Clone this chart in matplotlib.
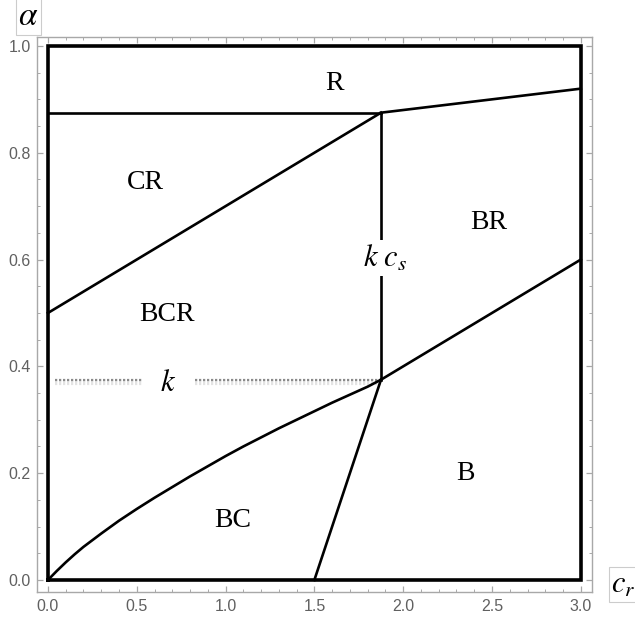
import numpy as np
import matplotlib
matplotlib.use("Agg")
import matplotlib.pyplot as plt
from matplotlib.ticker import MultipleLocator
import matplotlib.patheffects as pe

plt.rcParams['mathtext.fontset'] = 'stix'

# region boundaries (c_r, alpha)
k = 0.375
c_s = 1.875
top_line_c = [c_s, 3.0]
top_line_a = [0.875, 0.92]
upper_diag_c = [0.0, c_s]
upper_diag_a = [0.5, 0.875]
lower_diag_c = [c_s, 3.0]
lower_diag_a = [k, 0.6]
steep_c = [1.5, c_s]
steep_a = [0.0, k]
curve_c = [0.0, 0.05, 0.1, 0.15, 0.2, 0.3, 0.4, 0.5, 0.6, 0.7, 0.8, 0.9, 1.0,
           1.1, 1.2, 1.3, 1.4, 1.5, 1.6, 1.7, 1.8, 1.875]
curve_a = [0.0, 0.017, 0.033, 0.048, 0.062, 0.087, 0.111, 0.133, 0.154, 0.174,
           0.194, 0.213, 0.232, 0.250, 0.267, 0.284, 0.300, 0.316, 0.332, 0.347,
           0.362, 0.375]

region_names = ['R', 'CR', 'BR', 'BCR', 'B', 'BC']
region_c = [1.615, 0.55, 2.48, 0.67, 2.35, 1.04]
region_a = [0.93, 0.745, 0.67, 0.497, 0.20, 0.112]

fig = plt.figure(figsize=(6.35, 6.19), dpi=100)
ax = fig.add_axes([0.059, 0.0436, 0.873, 0.896])
ax.set_xlim(-0.059, 3.062)
ax.set_ylim(-0.0225, 1.016)

lw = 1.9
# outer box
ax.plot([0, 3, 3, 0, 0], [0, 0, 1, 1, 0], color='black', lw=2.6, clip_on=False,
        solid_joinstyle='miter')
ax.plot([0, c_s], [0.875, 0.875], color='black', lw=lw)
ax.plot(top_line_c, top_line_a, color='black', lw=lw)
ax.plot(upper_diag_c, upper_diag_a, color='black', lw=lw)
ax.plot([c_s, c_s], [k, 0.875], color='black', lw=lw)
ax.plot(lower_diag_c, lower_diag_a, color='black', lw=lw)
ax.plot(steep_c, steep_a, color='black', lw=lw)
ax.plot(curve_c, curve_a, color='black', lw=lw, solid_joinstyle='round')

# dotted k level, broken around its label
shadow = [pe.SimpleLineShadow(offset=(0, -2.5), shadow_color='#c8c8c8', alpha=0.5, linewidth=3),
          pe.Normal()]
for seg in [(0.04, 0.53), (0.83, c_s)]:
    ax.plot(seg, [k, k], color='#8a8a8a', lw=1.6, ls=(0, (1, 0.8)),
            path_effects=shadow, zorder=1)

for name, c, a in zip(region_names, region_c, region_a):
    ax.text(c, a, name, family='Liberation Serif', fontsize=20,
            ha='center', va='center')
ax.text(0.675, 0.369, r'$k$', fontsize=22, ha='center', va='center')
ax.text(1.9, 0.603, r'$k\ c_s$', fontsize=22, ha='center', va='center',
        bbox=dict(facecolor='white', edgecolor='none', pad=2))

# axis frame
for s in ax.spines.values():
    s.set_color('#a8a8a8')
    s.set_linewidth(1.0)
ax.xaxis.set_major_locator(MultipleLocator(0.5))
ax.xaxis.set_minor_locator(MultipleLocator(0.1))
ax.yaxis.set_major_locator(MultipleLocator(0.2))
ax.yaxis.set_minor_locator(MultipleLocator(0.05))
ax.tick_params(which='both', direction='in', top=True, right=True,
               color='#a8a8a8', labelcolor='#606060', labelsize=11.5, pad=5)
ax.tick_params(which='major', length=4.5, width=0.9)
ax.tick_params(which='minor', length=2.5, width=0.7)
ax.set_xticklabels(['%.1f' % v for v in ax.get_xticks()])
ax.set_yticklabels(['%.1f' % v for v in ax.get_yticks()])
for lab in ax.get_xticklabels() + ax.get_yticklabels():
    lab.set_family('Liberation Sans')

# axis names in small boxes
fig.text(0.045, 0.975, r'$\alpha$', fontsize=24, ha='center', va='center',
         bbox=dict(facecolor='white', edgecolor='#cccccc', lw=0.8, pad=2))
fig.text(0.982, 0.056, r'$c_r$', fontsize=22, ha='center', va='center',
         bbox=dict(facecolor='white', edgecolor='#cccccc', lw=0.8, pad=2))

fig.savefig('out.png', dpi=100)
